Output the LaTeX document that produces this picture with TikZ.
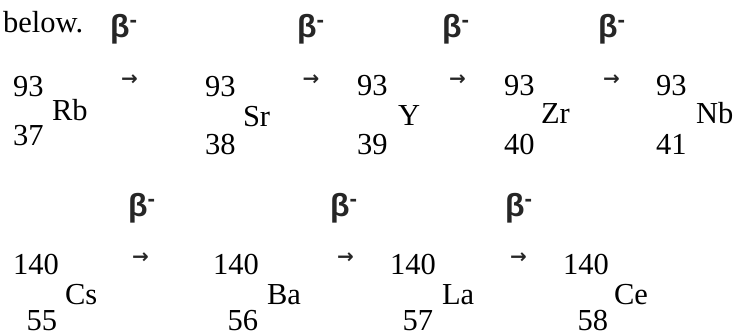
\documentclass[tikz,border=0pt]{standalone}
\usepackage{fontspec}
\setmainfont{Liberation Serif}
\newfontfamily\greekfont{Liberation Sans}
\newfontfamily\arrowfont{DejaVu Sans}
\begin{document}
\begin{tikzpicture}[
        x=1pt, y=-1pt,
        every node/.style={inner sep=0pt, outer sep=0pt, font=\fontsize{30.5}{31}\selectfont},
        nucl/.style={anchor=base west},
        zright/.style={anchor=base east},
        decay/.style={anchor=base west, text=black!85, font=\fontsize{32}{32}\greekfont\bfseries},
        arrowmark/.style={anchor=center, text=black!85, font=\fontsize{20}{20}\arrowfont\bfseries},
    ]
    \useasboundingbox (0,0) rectangle (741,335);
    \node[nucl](intro) at (3,32){below.};

    % first chain, A = 93
    \node[nucl](A-Rb) at (13,96){93};
    \node[nucl](Rb) at (52,120){Rb};
    \node[nucl](Z-Rb) at (13,145){37};
    \node[nucl](A-Sr) at (205,96){93};
    \node[nucl](Sr) at (243,126){Sr};
    \node[nucl](Z-Sr) at (205,154){38};
    \node[nucl](A-Y) at (357,95){93};
    \node[nucl](Y) at (398,125){Y};
    \node[nucl](Z-Y) at (357,154){39};
    \node[nucl](A-Zr) at (504,95){93};
    \node[nucl](Zr) at (541,123){Zr};
    \node[nucl](Z-Zr) at (504,154){40};
    \node[nucl](A-Nb) at (656,95){93};
    \node[nucl](Nb) at (696,123){Nb};
    \node[nucl](Z-Nb) at (656,154){41};

    \node[decay](beta1) at (110,37){β\textsuperscript{-}};
    \node[decay](beta2) at (297,37){β\textsuperscript{-}};
    \node[decay](beta3) at (442,37){β\textsuperscript{-}};
    \node[decay](beta4) at (598,37){β\textsuperscript{-}};
    \node[arrowmark](arr1) at (129.5,80){→};
    \node[arrowmark](arr2) at (311,80){→};
    \node[arrowmark](arr3) at (457.5,80){→};
    \node[arrowmark](arr4) at (611.5,80){→};

    % second chain, A = 140
    \node[nucl](A-Cs) at (13,274){140};
    \node[nucl](Cs) at (65,304){Cs};
    \node[zright](Z-Cs) at (57,330){55};
    \node[nucl](A-Ba) at (213,274){140};
    \node[nucl](Ba) at (267,304){Ba};
    \node[zright](Z-Ba) at (258,330){56};
    \node[nucl](A-La) at (390,274){140};
    \node[nucl](La) at (442,304){La};
    \node[zright](Z-La) at (433,330){57};
    \node[nucl](A-Ce) at (563,274){140};
    \node[nucl](Ce) at (614,304){Ce};
    \node[zright](Z-Ce) at (608,330){58};

    \node[decay](beta5) at (128,216){β\textsuperscript{-}};
    \node[decay](beta6) at (330,216){β\textsuperscript{-}};
    \node[decay](beta7) at (505,216){β\textsuperscript{-}};
    \node[arrowmark](arr5) at (140.5,258){→};
    \node[arrowmark](arr6) at (345.5,258){→};
    \node[arrowmark](arr7) at (518.5,258){→};
\end{tikzpicture}
\end{document}
